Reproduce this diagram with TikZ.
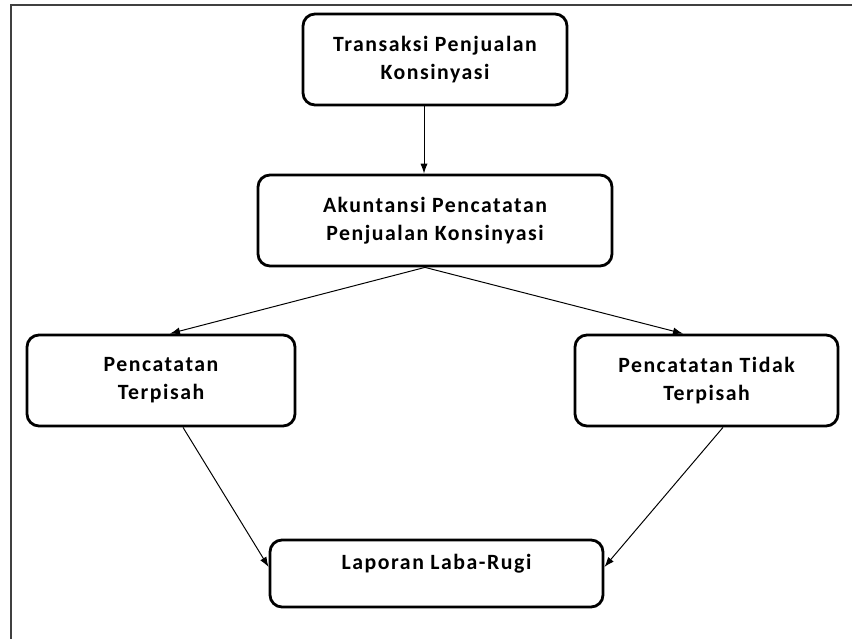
\documentclass[tikz,border=0pt]{standalone}
\usepackage{fontspec}
\setmainfont{Carlito}[LetterSpace=7]
\usetikzlibrary{arrows.meta}

\begin{document}
\begin{tikzpicture}[
  box/.style={draw, line width=2pt, rounded corners=0.3cm, align=center,
    minimum height=2.275cm, inner sep=0pt,
    font=\fontsize{15.5}{19.9}\selectfont\bfseries},
  flow/.style={-{Latex[length=0.25cm, width=0.18cm]}, line width=0.7pt}
]
\useasboundingbox (0,0) rectangle (21.3,15.975);

% frame
\draw [line width=1.4pt, black!75] (0.275,0) -- (0.275,15.85) -- (21.3,15.85);

\node (T1) at (10.875,14.4875) [box, minimum width=6.6cm] {Transaksi Penjualan\\Konsinyasi};
\node (T2) at (10.875,10.4625) [box, minimum width=8.85cm] {Akuntansi Pencatatan\\Penjualan Konsinyasi};
\node (T3) at (4.025,6.4625) [box, minimum width=6.7cm] {Pencatatan\\Terpisah};
\node (T4) at (17.6625,6.4625) [box, minimum width=6.575cm] {Pencatatan Tidak\\Terpisah};
\node (T5) at (10.9125,1.6375) [box, minimum width=8.325cm, minimum height=0pt,
  text height=0.75cm, text depth=0.925cm] {Laporan Laba-Rugi};

\draw [flow] ([xshift=-0.275cm]T1.south) -- ([xshift=-0.275cm]T2.north);

\draw [flow] ([xshift=-0.25cm]T2.south) -- ([xshift=0.225cm]T3.north);
\draw [flow] ([xshift=-0.25cm]T2.south) -- ([xshift=-0.5875cm]T4.north);

\draw [flow] ([xshift=0.55cm]T3.south) -- ([yshift=0.1625cm]T5.west);
\draw [flow] ([xshift=0.4125cm]T4.south) -- ([yshift=0.1625cm]T5.east);
\end{tikzpicture}
\end{document}
